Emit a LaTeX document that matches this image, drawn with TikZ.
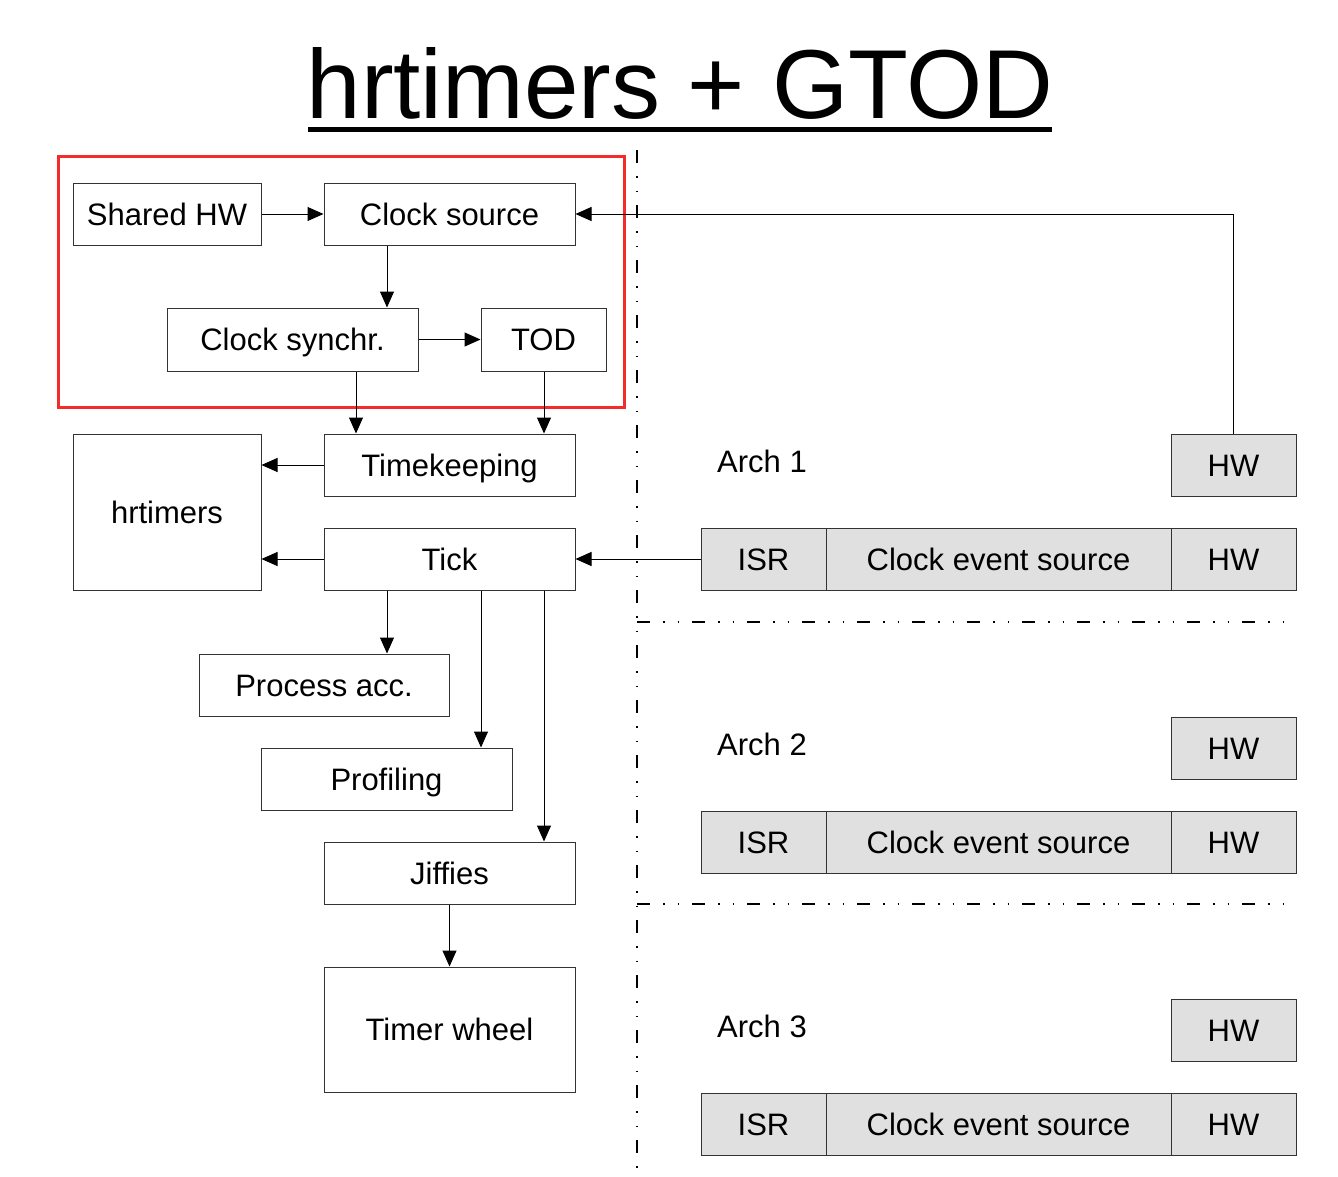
\documentclass[tikz,border=0pt]{standalone}
\usepackage{fontspec}
\setmainfont{Liberation Sans}
\usetikzlibrary{arrows.meta,calc}
\definecolor{boxgray}{HTML}{E0E0E0}
\definecolor{edgegray}{HTML}{333333}
\definecolor{redframe}{HTML}{F52A2A}
\begin{document}
\begin{tikzpicture}[x=1pt,y=-1pt,
  box/.style={draw=edgegray,line width=1pt,minimum width=#1,inner sep=0pt,font=\fontsize{31}{31}\selectfont,text=black,text height=22pt,text depth=0pt},
  gbox/.style={box=#1,fill=boxgray},
  arr/.style={line width=1pt,-{Triangle[length=16pt,width=14pt]}},
  sep/.style={line width=1.3pt,dash pattern=on 13pt off 13pt on 1.5pt off 13pt on 1.5pt off 13pt},
  lbl/.style={font=\fontsize{31}{31}\selectfont,anchor=west,inner sep=0pt,text height=22pt,text depth=0pt}]
\useasboundingbox[fill=white] (0,0) rectangle (1338,1176);
% title
\node[font=\fontsize{98}{98}\selectfont,anchor=base,inner sep=0pt] (title) at (680,118) {hrtimers + GTOD};
\draw[line width=5pt] (308,129.5) coordinate (ul1) -- (1052,129.5) coordinate (ul2);
% separators
\draw[sep] (637,150) coordinate (s1) -- (637,1172) coordinate (s2);
\draw[sep] (637,622) coordinate (s3) -- (1295,622) coordinate (s4);
\draw[sep] (637,904) coordinate (s5) -- (1295,904) coordinate (s6);
% red frame
\draw[redframe,line width=3pt] (58,156) rectangle (624,407);
% left column
\node[box=188pt,minimum height=62pt] (sharedhw) at (167,214) {Shared HW};
\node[box=251pt,minimum height=62pt] (clocksrc) at (449.5,214) {Clock source};
\node[box=251pt,minimum height=63pt] (clocksync) at (292.5,339.5) {Clock synchr.};
\node[box=125pt,minimum height=63pt] (tod) at (543.5,339.5) {TOD};
\node[box=188pt,minimum height=156pt] (hrtimers) at (167,512) {hrtimers};
\node[box=251pt,minimum height=62pt] (timekeeping) at (449.5,465) {Timekeeping};
\node[box=251pt,minimum height=62pt] (tick) at (449.5,559) {Tick};
\node[box=250pt,minimum height=62pt] (procacc) at (324,685) {Process acc.};
\node[box=251pt,minimum height=62pt] (profiling) at (386.5,779) {Profiling};
\node[box=251pt,minimum height=62pt] (jiffies) at (449.5,873) {Jiffies};
\node[box=251pt,minimum height=125pt] (timerwheel) at (449.5,1029.5) {Timer wheel};
% right column
\foreach \i/\dy in {1/0,2/283,3/565}{
  \node[lbl] (arch\i) at (717,461+\dy) {Arch \i};
  \node[gbox=125pt,minimum height=62pt] (hwa\i) at (1233.5,465+\dy) {HW};
  \node[gbox=125pt,minimum height=62pt] (isr\i) at (763.5,559+\dy) {ISR};
  \node[gbox=345pt,minimum height=62pt] (ces\i) at (998.5,559+\dy) {Clock event source};
  \node[gbox=125pt,minimum height=62pt] (hwb\i) at (1233.5,559+\dy) {HW};
}
% helper x coordinates
\coordinate (x356) at (356,0);
\coordinate (x387) at (387,0);
\coordinate (x481) at (481,0);
\coordinate (x544) at (544,0);
% connectors
\draw[arr] (sharedhw.east) -- (clocksrc.west);
\draw[arr] (clocksrc.south -| x387) -- (clocksync.north -| x387);
\draw[arr] (clocksync.east) -- (tod.west);
\draw[arr] (clocksync.south -| x356) -- (timekeeping.north -| x356);
\draw[arr] (tod.south -| x544) -- (timekeeping.north -| x544);
\draw[arr] (timekeeping.west) -- (timekeeping.west -| hrtimers.east);
\draw[arr] (tick.west) -- (tick.west -| hrtimers.east);
\draw[arr] (tick.south -| x387) -- (procacc.north -| x387);
\draw[arr] (tick.south -| x481) -- (profiling.north -| x481);
\draw[arr] (tick.south -| x544) -- (jiffies.north -| x544);
\draw[arr] (jiffies.south) -- (timerwheel.north);
\draw[arr] (isr1.west) -- (tick.east);
\draw[arr] (hwa1.north) |- (clocksrc.east);
\end{tikzpicture}
\end{document}
